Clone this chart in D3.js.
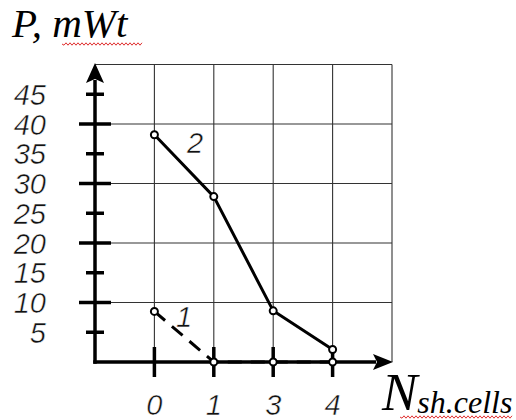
<!DOCTYPE html>
<html><head><meta charset="utf-8">
<script src="https://cdn.jsdelivr.net/npm/d3@7"></script>
<style>
html,body{margin:0;padding:0;background:#fff;}
svg{display:block;}
.tl{font-family:"Liberation Sans Narrow","Liberation Sans",sans-serif;font-style:italic;fill:#111;stroke:#fff;stroke-width:0.5px;paint-order:fill;}
.ser{font-family:"Liberation Serif","Times New Roman",serif;font-style:italic;fill:#000;}
</style></head>
<body>
<svg id="c" width="516" height="420"></svg>
<script>
const categories = ["0", "1", "3", "4"];
const series2 = [38.2, 27.8, 8.6, 2.1];   // curve "2" (solid)
const series1 = [8.5, 0, 0, 0];           // curve "1" (dashed)
const yMajor = [10, 20, 30, 40];
const yMinor = [5, 15, 25, 35, 45];
const yTickLabels = ["5","10","15","20","25","30","35","40","45"];

const svg = d3.select("#c");
const x = d3.scaleLinear().domain([0, categories.length + 1]).range([95, 392]);
const y = d3.scaleLinear().domain([0, 50]).range([362, 64.5]);
const xc = (d, i) => x(i + 1);

// grid
const g = svg.append("g").attr("stroke", "#333").attr("stroke-width", 1.1);
[...yMajor, 50].forEach(v => g.append("line").attr("x1", x(0)).attr("x2", x(5)).attr("y1", y(v)).attr("y2", y(v)));
[1, 2, 3, 4, 5].forEach(i => g.append("line").attr("x1", x(i)).attr("x2", x(i)).attr("y1", y(50)).attr("y2", y(0)));

// axes
const ax = svg.append("g").attr("stroke", "#000").attr("stroke-width", 3.5).attr("stroke-linecap", "butt");
ax.append("line").attr("x1", x(0)).attr("x2", x(0)).attr("y1", 80).attr("y2", y(0) + 1.75);
ax.append("line").attr("x1", x(0) - 1.75).attr("x2", 376).attr("y1", y(0)).attr("y2", y(0));
// arrowheads
svg.append("path").attr("fill", "#000")
  .attr("d", `M${x(0)},63 L${x(0)+9},83 L${x(0)},79 L${x(0)-9},83 Z`);
svg.append("path").attr("fill", "#000")
  .attr("d", `M393,${y(0)} L373,${y(0)-8} L377,${y(0)} L373,${y(0)+8} Z`);

// y ticks
yMajor.forEach(v => ax.append("line").attr("x1", 79).attr("x2", 111).attr("y1", y(v)).attr("y2", y(v)));
yMinor.forEach(v => ax.append("line").attr("x1", 86).attr("x2", 104).attr("y1", y(v)).attr("y2", y(v)));
// x ticks
categories.forEach((c, i) => ax.append("line").attr("x1", xc(c, i)).attr("x2", xc(c, i)).attr("y1", 347).attr("y2", 377));

// tick labels
const yl = [...yMinor, ...yMajor].sort((a, b) => a - b);
yl.forEach((v, k) => svg.append("text").attr("class", "tl").attr("x", 46).attr("y", y(v) + 10.5)
  .attr("text-anchor", "end").attr("font-size", 29).text(yTickLabels[k]));
categories.forEach((c, i) => svg.append("text").attr("class", "tl").attr("x", xc(c, i)).attr("y", 415)
  .attr("text-anchor", "middle").attr("font-size", 29).text(c));

// lines
const line = d3.line().x((d, i) => x(i + 1)).y(d => y(d));
svg.append("path").datum(series1).attr("d", line).attr("fill", "none").attr("stroke", "#000")
  .attr("stroke-width", 3).attr("stroke-dasharray", "14,9");
svg.append("path").datum(series2).attr("d", line).attr("fill", "none").attr("stroke", "#000")
  .attr("stroke-width", 3);

// markers
[series1, series2].forEach(s => s.forEach((v, i) => svg.append("circle").attr("cx", x(i + 1)).attr("cy", y(v))
  .attr("r", 3.5).attr("fill", "#fff").attr("stroke", "#000").attr("stroke-width", 2)));

// curve labels
svg.append("text").attr("class", "tl").attr("x", 195).attr("y", 153).attr("text-anchor", "middle").attr("font-size", 29).text("2");
svg.append("text").attr("class", "tl").attr("x", 184).attr("y", 327).attr("text-anchor", "middle").attr("font-size", 29).text("1");

// axis titles
svg.append("text").attr("class", "ser").attr("x", 12).attr("y", 37).attr("font-size", 41).text("P, mWt");
const nt = svg.append("text").attr("class", "ser").attr("x", 382).attr("y", 410);
nt.append("tspan").attr("font-size", 53).text("N");
nt.append("tspan").attr("font-size", 32).attr("dy", 3).text("sh.cells");

// spell-check squiggles
function squiggle(x0, x1, yy) {
  let d = `M${x0},${yy}`;
  for (let xx = x0, k = 0; xx < x1; xx += 2, k++) d += ` L${xx + 2},${yy + (k % 2 ? -1.2 : 1.2)}`;
  svg.append("path").attr("d", d).attr("fill", "none").attr("stroke", "#e03030").attr("stroke-width", 1);
}
squiggle(62, 142, 44);
squiggle(400, 512, 417);
</script>
</body></html>
